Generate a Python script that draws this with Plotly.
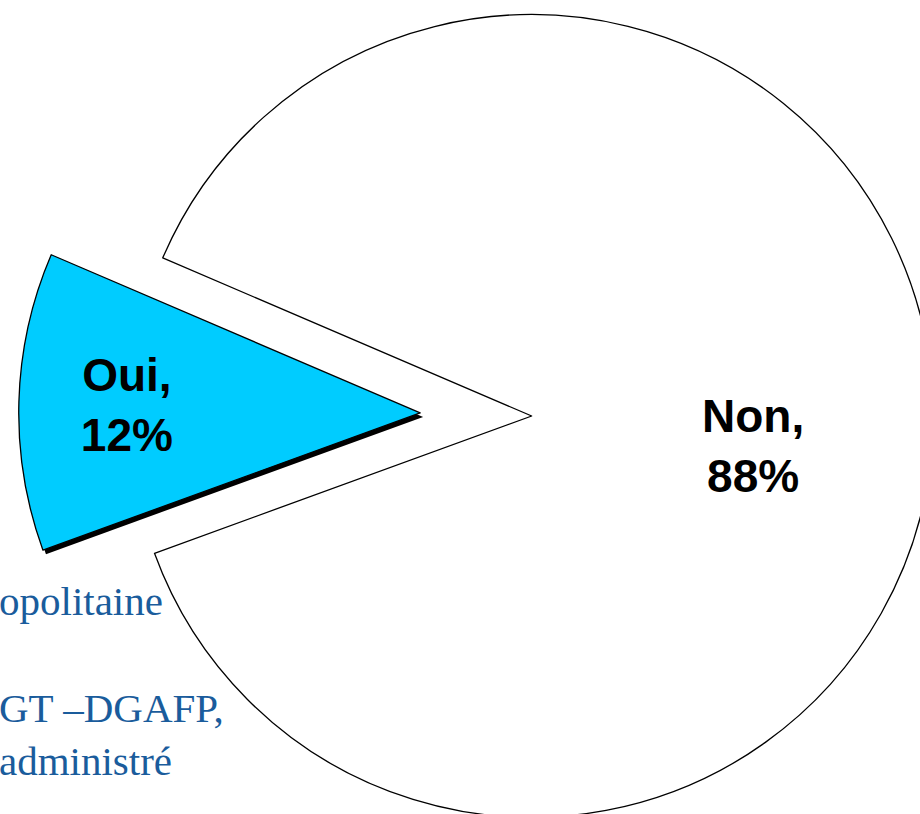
import plotly.graph_objects as go

# ---- data ----
labels = ["Oui", "Non"]
values = [12, 88]
slice_colors = ["#00CCFF", "#FFFFFF"]
pulls = [0.278, 0]
note_lines = ["opolitaine", "", "GT \u2013DGAFP,", "administré"]

# ---- layout geometry (pixels) ----
W, H = 1050, 1045          # figure size (larger than the window; cropped like the reference)
SHIFT = 107                # page offset of the figure (pie extends beyond the window)
CX, BOX = 531.7, 1026      # pie centre x and square box size
TOP = 10                   # box top in figure coordinates
SH_DX, SH_DY = 3, 4        # shadow offset
NON_LABEL_PX = (753, 446)  # page position of the large-slice label


def dom(cx, top):
    return dict(x=[(cx - BOX / 2) / W, (cx + BOX / 2) / W],
                y=[1 - (top + BOX) / H, 1 - top / H])


def pct(v):
    return f"{round(100 * v / sum(values))}%"


fig = go.Figure()

# shadow of the pulled slice
fig.add_trace(go.Pie(
    labels=labels, values=values, sort=False, direction="clockwise",
    rotation=250, pull=pulls, domain=dom(CX + SH_DX, TOP + SH_DY),
    marker=dict(colors=["#000000", "rgba(0,0,0,0)"], line=dict(width=0)),
    textinfo="none", hoverinfo="skip", showlegend=False,
))

label_font = dict(family="Liberation Sans, Arial, sans-serif", size=46,
                  color="#000000", weight="bold")

# main pie
fig.add_trace(go.Pie(
    labels=labels, values=values, sort=False, direction="clockwise",
    rotation=250, pull=pulls, domain=dom(CX, TOP),
    marker=dict(colors=slice_colors, line=dict(color="#000000", width=1.3)),
    texttemplate=["%{label},<br>%{percent:.0%}", ""],
    textposition="inside", insidetextorientation="horizontal",
    insidetextfont=label_font,
    hoverinfo="label+percent", showlegend=False,
))

# label of the large slice
fig.add_annotation(
    xref="paper", yref="paper",
    x=NON_LABEL_PX[0] / W, y=1 - (NON_LABEL_PX[1] + SHIFT) / H,
    xanchor="center", yanchor="middle", align="center", showarrow=False,
    text=f"{labels[1]},<br>{pct(values[1])}", font=label_font,
)

# source note (cut off at the left edge like the reference)
fig.add_annotation(
    xref="paper", yref="paper", x=-3 / W, y=1 - (681 + SHIFT) / H,
    xanchor="left", yanchor="middle", align="left", showarrow=False,
    text="<br>".join(l if l else " " for l in note_lines),
    font=dict(family="Liberation Serif, Times New Roman, serif", size=41, color="#1A5C9C"),
)

fig.update_layout(
    width=W, height=H, autosize=False,
    margin=dict(l=0, r=0, t=0, b=0),
    paper_bgcolor="#FFFFFF", plot_bgcolor="#FFFFFF",
    showlegend=False,
)

post = (
    "document.documentElement.style.overflow='hidden';"
    "document.body.style.overflow='hidden';"
    "document.body.style.margin='0';"
    "var gd=document.getElementById('{plot_id}');"
    "gd.style.position='relative';"
    "gd.style.top='-" + str(SHIFT) + "px';"
)

fig.write_html("out.html", post_script=post)
